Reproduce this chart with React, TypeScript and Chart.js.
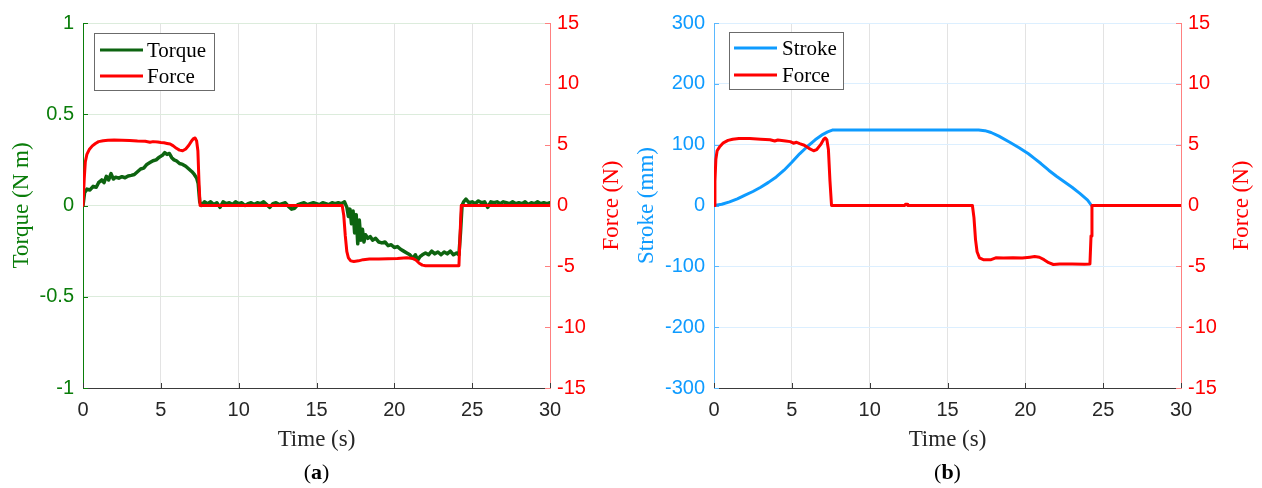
import React, { useEffect, useRef } from "react";
import { Chart, registerables } from "chart.js";

Chart.register(...registerables);

// ---------- shared axes ----------
const timeTicks = [0, 5, 10, 15, 20, 25, 30];
const torqueTicks = [-1, -0.5, 0, 0.5, 1];
const strokeTicks = [-300, -200, -100, 0, 100, 200, 300];
const forceTicks = [-15, -10, -5, 0, 5, 10, 15];

// ---------- panel (a): torque and force ----------
const torqueTime = [
  0, 0.1, 0.25, 0.45, 0.65, 0.85, 1.0, 1.2, 1.35, 1.5,
  1.65, 1.8, 1.95, 2.1, 2.3, 2.5, 2.7, 2.9, 3.1, 3.3,
  3.5, 3.7, 3.9, 4.1, 4.3, 4.5, 4.7, 4.9, 5.1, 5.25,
  5.4, 5.55, 5.7, 5.85, 6.0, 6.2, 6.4, 6.6, 6.8, 7.0,
  7.15, 7.3, 7.4, 7.5, 7.6, 7.8, 8.0, 8.2, 8.4, 8.6,
  8.8, 9.0, 9.2, 9.4, 9.6, 9.8, 10.0, 10.2, 10.4, 10.6,
  10.8, 11.0, 11.2, 11.4, 11.6, 11.8, 12.0, 12.2, 12.4, 12.6,
  12.8, 13.0, 13.2, 13.4, 13.6, 13.8, 14.0, 14.2, 14.4, 14.6,
  14.8, 15.0, 15.2, 15.4, 15.6, 15.8, 16.0, 16.2, 16.4, 16.6,
  16.8, 16.95, 17.05, 17.15, 17.25, 17.35, 17.45, 17.55, 17.65, 17.75,
  17.85, 17.95, 18.05, 18.15, 18.3, 18.45, 18.6, 18.8, 19.0, 19.2,
  19.4, 19.6, 19.8, 20.0, 20.2, 20.4, 20.6, 20.8, 21.0, 21.2,
  21.35, 21.5, 21.65, 21.8, 22.0, 22.2, 22.4, 22.6, 22.8, 23.0,
  23.2, 23.4, 23.6, 23.8, 24.0, 24.15, 24.25, 24.35, 24.45, 24.6,
  24.8, 25.0, 25.2, 25.4, 25.6, 25.8, 26.0, 26.2, 26.4, 26.6,
  26.8, 27.0, 27.2, 27.4, 27.6, 27.8, 28.0, 28.2, 28.4, 28.6,
  28.8, 29.0, 29.2, 29.4, 29.6, 29.8, 30.0,
];
const torqueValue = [
  0, 0.07, 0.09, 0.085, 0.105, 0.1, 0.125, 0.14, 0.125, 0.16,
  0.14, 0.175, 0.145, 0.155, 0.15, 0.158, 0.152, 0.162, 0.165, 0.17,
  0.185, 0.2, 0.205, 0.225, 0.235, 0.245, 0.25, 0.265, 0.275, 0.29,
  0.28, 0.285, 0.262, 0.25, 0.245, 0.23, 0.225, 0.215, 0.2, 0.185,
  0.17, 0.15, 0.12, 0.02, 0.0, 0.02, 0.01, 0.02, 0.005, 0.015,
  -0.01, 0.02, 0.01, 0.015, 0.005, 0.02, 0.01, 0.015, 0.0, 0.01,
  0.015, 0.005, 0.015, 0.01, 0.02, 0.005, -0.01, 0.01, 0.015, 0.005,
  0.01, 0.015, -0.005, -0.02, -0.015, 0.005, 0.01, 0.015, 0.005, 0.01,
  0.015, 0.01, 0.005, 0.015, 0.01, 0.005, 0.015, 0.01, 0.015, 0.01,
  0.02, -0.01, -0.06, -0.02, -0.1, -0.03, -0.15, -0.05, -0.21, -0.08,
  -0.19, -0.13, -0.2, -0.16, -0.18, -0.17, -0.19, -0.18, -0.2, -0.205,
  -0.2, -0.22, -0.215, -0.23, -0.225, -0.24, -0.25, -0.26, -0.27, -0.29,
  -0.27, -0.3, -0.28, -0.27, -0.26, -0.27, -0.25, -0.265, -0.255, -0.27,
  -0.255, -0.265, -0.25, -0.27, -0.26, -0.27, -0.15, 0.0, 0.02, 0.035,
  0.015, 0.02, 0.01, 0.025, 0.015, 0.02, -0.01, 0.02, 0.015, 0.02,
  0.01, 0.02, 0.015, 0.01, 0.02, 0.01, 0.015, 0.01, 0.02, 0.005,
  0.015, 0.01, 0.02, 0.01, 0.015, 0.01, 0.015,
];

const forceATime = [
  0, 0.08, 0.15, 0.25, 0.4, 0.6, 0.8, 1.0, 1.3, 1.6,
  2.0, 2.5, 3.0, 3.5, 4.0, 4.3, 4.5, 4.8, 5.0, 5.2,
  5.4, 5.6, 5.8, 6.0, 6.2, 6.4, 6.6, 6.8, 7.0, 7.1,
  7.2, 7.3, 7.38, 7.45, 7.52, 16.65, 16.75, 16.85, 16.95, 17.05,
  17.2, 17.4, 17.7, 18.0, 18.4, 19.0, 19.6, 20.2, 20.8, 21.2,
  21.4, 21.6, 21.8, 22.0, 22.5, 23.0, 23.5, 24.0, 24.15, 24.22,
  24.3, 30,
];
const forceAValue = [
  0, 2.2, 3.6, 4.2, 4.6, 4.9, 5.1, 5.25, 5.32, 5.36,
  5.38, 5.37, 5.35, 5.3, 5.28, 5.2, 5.25, 5.22, 5.18, 5.15,
  5.1, 5.05, 4.9, 4.7, 4.55, 4.5, 4.65, 4.95, 5.35, 5.5,
  5.55, 5.3, 4.5, 2.0, 0, 0, -0.8, -2.5, -3.8, -4.3,
  -4.55, -4.6, -4.55, -4.45, -4.4, -4.4, -4.38, -4.35, -4.3, -4.35,
  -4.5, -4.75, -4.9, -4.95, -4.95, -4.95, -4.95, -4.95, -4.95, -2.5,
  0, 0,
];

// ---------- panel (b): stroke and force ----------
const strokeTime = [
  0, 0.5, 1.0, 1.5, 2.0, 2.5, 3.0, 3.5, 4.0, 4.5,
  5.0, 5.5, 6.0, 6.5, 7.0, 7.3, 7.6, 17.0, 17.4, 17.8,
  18.3, 19.0, 19.6, 20.2, 20.6, 21.0, 21.5, 22.0, 22.5, 23.0,
  23.5, 24.0, 24.25, 30,
];
const strokeValue = [
  0, 2, 6, 11, 17, 23, 30, 38, 47, 58,
  71, 85, 97, 108, 117, 121, 124, 124, 123, 120,
  114, 104, 95, 85, 77, 69, 58, 48, 39, 30,
  20, 9, 0, 0,
];

const forceBTime = [
  0, 0.06, 0.12, 0.2, 0.35, 0.6, 0.9, 1.2, 1.6, 2.3,
  3.0, 3.6, 3.9, 4.1, 4.6, 4.9, 5.1, 5.3, 5.5, 5.8,
  6.1, 6.4, 6.6, 6.85, 7.05, 7.15, 7.25, 7.35, 7.45, 7.55,
  12.25, 12.3, 12.4, 12.45, 16.6, 16.7, 16.8, 16.9, 17.05, 17.3,
  17.8, 18.1, 18.6, 19.2, 19.8, 20.3, 20.6, 20.9, 21.2, 21.5,
  21.8, 22.2, 23.0, 23.8, 24.15, 24.22, 24.28, 30,
];
const forceBValue = [
  0, 2.0, 3.8, 4.5, 4.8, 5.15, 5.35, 5.45, 5.5, 5.5,
  5.45, 5.4, 5.3, 5.38, 5.3, 5.25, 5.12, 5.2, 5.08, 4.95,
  4.7, 4.5, 4.6, 5.0, 5.45, 5.55, 5.4, 4.6, 2.0, 0,
  0, 0.1, 0.1, 0, 0, -1.0, -2.8, -3.8, -4.3, -4.45,
  -4.45, -4.3, -4.32, -4.3, -4.32, -4.25, -4.2, -4.25, -4.45, -4.7,
  -4.85, -4.8, -4.8, -4.82, -4.8, -2.5, 0, 0,
];

// ---------- styling ----------
const SANS = '"Liberation Sans", Arial, Helvetica, sans-serif';
const SERIF = '"Liberation Serif", "Times New Roman", Times, serif';
const RED = "#ff0000";
const RED_AXIS = "#ff8080";
const GREEN = "#0a7d0a";
const GREEN_LINE = "#0d6410";
const BLUE = "#0e9bff";
const BLUE_AXIS = "#5ab8ff";

const CANVAS_W = 631;
const CANVAS_H = 488;

type Series = {
  label: string;
  time: number[];
  values: number[];
  color: string;
  axis: "y" | "y1";
  order: number;
  width: number;
};

type Panel = {
  caption: string;
  leftTitle: string;
  leftTitleX: number;
  rightTitleX: number;
  leftTicks: number[];
  leftColor: string;
  leftAxisColor: string;
  leftGrid: string;
  series: Series[];
  legend: { left: number; top: number; width: number; height: number; lineX0: number; lineX1: number; textX: number; rows: number[] };
};

const panelA: Panel = {
  caption: "a",
  leftTitle: "Torque (N m)",
  leftTitleX: 22,
  rightTitleX: 612,
  leftTicks: torqueTicks,
  leftColor: GREEN,
  leftAxisColor: GREEN,
  leftGrid: "#dcecdc",
  series: [
    { label: "Torque", time: torqueTime, values: torqueValue, color: GREEN_LINE, axis: "y", order: 2, width: 3.5 },
    { label: "Force", time: forceATime, values: forceAValue, color: RED, axis: "y1", order: 1, width: 3 },
  ],
  legend: { left: 11, top: 10, width: 120, height: 57, lineX0: 17, lineX1: 60, textX: 64, rows: [27, 53] },
};

const panelB: Panel = {
  caption: "b",
  leftTitle: "Stroke (mm)",
  leftTitleX: 16,
  rightTitleX: 611,
  leftTicks: strokeTicks,
  leftColor: BLUE,
  leftAxisColor: BLUE_AXIS,
  leftGrid: "#dcefff",
  series: [
    { label: "Stroke", time: strokeTime, values: strokeValue, color: BLUE, axis: "y", order: 2, width: 3 },
    { label: "Force", time: forceBTime, values: forceBValue, color: RED, axis: "y1", order: 1, width: 3 },
  ],
  legend: { left: 15, top: 9, width: 114, height: 57, lineX0: 20, lineX1: 63, textX: 68, rows: [25, 52] },
};

function makeDecor(p: Panel) {
  return {
    id: "panelDecor",
    beforeDatasetsDraw(chart: any) {
      const { ctx, chartArea: a, scales } = chart;
      ctx.save();
      ctx.lineWidth = 1;
      // inward tick marks on the time axis
      ctx.strokeStyle = "#3a3a3a";
      ctx.beginPath();
      for (const t of timeTicks) {
        const x = Math.round(scales.x.getPixelForValue(t)) + 0.5;
        ctx.moveTo(x, a.bottom);
        ctx.lineTo(x, a.bottom - 5);
      }
      ctx.stroke();
      // inward tick marks on the left axis
      ctx.strokeStyle = p.leftAxisColor;
      ctx.beginPath();
      for (const v of p.leftTicks) {
        const y = Math.round(scales.y.getPixelForValue(v)) + 0.5;
        ctx.moveTo(a.left, y);
        ctx.lineTo(a.left + 5, y);
      }
      ctx.stroke();
      // inward tick marks on the force axis
      ctx.strokeStyle = RED_AXIS;
      ctx.beginPath();
      for (const v of forceTicks) {
        const y = Math.round(scales.y1.getPixelForValue(v)) + 0.5;
        ctx.moveTo(a.right, y);
        ctx.lineTo(a.right - 5, y);
      }
      ctx.stroke();
      ctx.restore();
    },
    afterDatasetsDraw(chart: any) {
      const { ctx, chartArea: a } = chart;
      const lg = p.legend;
      ctx.save();
      // legend box
      const bx = a.left + lg.left;
      const by = a.top + lg.top;
      ctx.fillStyle = "#ffffff";
      ctx.fillRect(bx, by, lg.width, lg.height);
      ctx.strokeStyle = "#6b6b6b";
      ctx.lineWidth = 1;
      ctx.strokeRect(Math.round(bx) + 0.5, Math.round(by) + 0.5, lg.width, lg.height);
      ctx.font = `21px ${SERIF}`;
      ctx.textBaseline = "middle";
      ctx.textAlign = "left";
      p.series.forEach((s, i) => {
        const ry = a.top + lg.rows[i];
        ctx.strokeStyle = s.color;
        ctx.lineWidth = 3;
        ctx.beginPath();
        ctx.moveTo(a.left + lg.lineX0, ry);
        ctx.lineTo(a.left + lg.lineX1, ry);
        ctx.stroke();
        ctx.fillStyle = "#000000";
        ctx.fillText(s.label, a.left + lg.textX, ry + 1);
      });

      // axis titles
      const midY = (a.top + a.bottom) / 2;
      ctx.font = `23px ${SERIF}`;
      ctx.textAlign = "center";
      ctx.textBaseline = "middle";
      ctx.save();
      ctx.translate(p.leftTitleX, midY);
      ctx.rotate(-Math.PI / 2);
      ctx.fillStyle = p.leftColor;
      ctx.fillText(p.leftTitle, 0, 0);
      ctx.restore();
      ctx.save();
      ctx.translate(p.rightTitleX, midY);
      ctx.rotate(-Math.PI / 2);
      ctx.fillStyle = RED;
      ctx.fillText("Force (N)", 0, 0);
      ctx.restore();

      const midX = (a.left + a.right) / 2;
      ctx.fillStyle = "#262626";
      ctx.font = `23px ${SERIF}`;
      ctx.fillText("Time (s)", midX, 440);

      // panel caption "(a)" / "(b)" with bold letter
      const normal = `22px ${SERIF}`;
      const bold = `bold 22px ${SERIF}`;
      ctx.textAlign = "left";
      ctx.fillStyle = "#000000";
      ctx.font = normal;
      const wOpen = ctx.measureText("(").width;
      const wClose = ctx.measureText(")").width;
      ctx.font = bold;
      const wLetter = ctx.measureText(p.caption).width;
      let cx = midX - (wOpen + wLetter + wClose) / 2;
      const cy = 473;
      ctx.font = normal;
      ctx.fillText("(", cx, cy);
      cx += wOpen;
      ctx.font = bold;
      ctx.fillText(p.caption, cx, cy);
      cx += wLetter;
      ctx.font = normal;
      ctx.fillText(")", cx, cy);
      ctx.restore();
    },
  };
}

function buildConfig(p: Panel): any {
  const leftMin = p.leftTicks[0];
  const leftMax = p.leftTicks[p.leftTicks.length - 1];
  return {
    type: "line",
    data: {
      datasets: p.series.map((s) => ({
        label: s.label,
        data: s.time.map((t, i) => ({ x: t, y: s.values[i] })),
        borderColor: s.color,
        backgroundColor: s.color,
        borderWidth: s.width,
        pointRadius: 0,
        tension: 0,
        fill: false,
        yAxisID: s.axis,
        order: s.order,
        borderJoinStyle: "round",
        borderCapStyle: "round",
      })),
    },
    options: {
      responsive: false,
      animation: false,
      events: [],
      layout: { padding: { top: 23, left: 0, right: 0, bottom: 0 } },
      plugins: {
        legend: { display: false },
        tooltip: { enabled: false },
        title: { display: false },
      },
      scales: {
        x: {
          type: "linear",
          min: 0,
          max: 30,
          afterBuildTicks: (s: any) => {
            s.ticks = timeTicks.map((v) => ({ value: v }));
          },
          afterFit: (s: any) => {
            s.height = 100;
          },
          grid: {
            color: (c: any) =>
              c.index === 0 || c.index === timeTicks.length - 1 ? "rgba(0,0,0,0)" : "#e3e3e3",
            drawTicks: false,
            lineWidth: 1,
          },
          border: { color: "#3a3a3a", width: 1 },
          ticks: {
            color: "#262626",
            font: { family: SANS, size: 20 },
            padding: 10,
            autoSkip: false,
            maxRotation: 0,
            callback: (v: any) => String(v),
          },
        },
        y: {
          type: "linear",
          position: "left",
          min: leftMin,
          max: leftMax,
          afterBuildTicks: (s: any) => {
            s.ticks = p.leftTicks.map((v) => ({ value: v }));
          },
          afterFit: (s: any) => {
            s.width = 83;
          },
          grid: {
            color: (c: any) => (c.index === 0 ? "rgba(0,0,0,0)" : p.leftGrid),
            drawTicks: false,
            lineWidth: 1,
          },
          border: { color: p.leftAxisColor, width: 1 },
          ticks: {
            color: p.leftColor,
            font: { family: SANS, size: 20 },
            padding: 9,
            autoSkip: false,
            callback: (v: any) => String(v),
          },
        },
        y1: {
          type: "linear",
          position: "right",
          min: -15,
          max: 15,
          afterBuildTicks: (s: any) => {
            s.ticks = forceTicks.map((v) => ({ value: v }));
          },
          afterFit: (s: any) => {
            s.width = CANVAS_W - 550;
          },
          grid: { display: false, drawTicks: false },
          border: { color: RED_AXIS, width: 1 },
          ticks: {
            color: RED,
            font: { family: SANS, size: 20 },
            padding: 7,
            autoSkip: false,
            callback: (v: any) => String(v),
          },
        },
      },
    },
    plugins: [makeDecor(p)],
  };
}

export default function App() {
  const aRef = useRef<HTMLCanvasElement>(null);
  const bRef = useRef<HTMLCanvasElement>(null);

  useEffect(() => {
    const ca = new Chart(aRef.current as HTMLCanvasElement, buildConfig(panelA));
    const cb = new Chart(bRef.current as HTMLCanvasElement, buildConfig(panelB));
    return () => {
      ca.destroy();
      cb.destroy();
    };
  }, []);

  const canvasStyle = (left: number): React.CSSProperties => ({
    position: "absolute",
    left,
    top: 0,
    width: CANVAS_W,
    height: CANVAS_H,
  });

  return (
    <div
      style={{
        position: "absolute",
        left: 0,
        top: 0,
        width: CANVAS_W * 2,
        height: CANVAS_H,
        background: "#ffffff",
        overflow: "hidden",
      }}
    >
      <canvas ref={aRef} width={CANVAS_W} height={CANVAS_H} style={canvasStyle(0)} />
      <canvas ref={bRef} width={CANVAS_W} height={CANVAS_H} style={canvasStyle(CANVAS_W)} />
    </div>
  );
}
